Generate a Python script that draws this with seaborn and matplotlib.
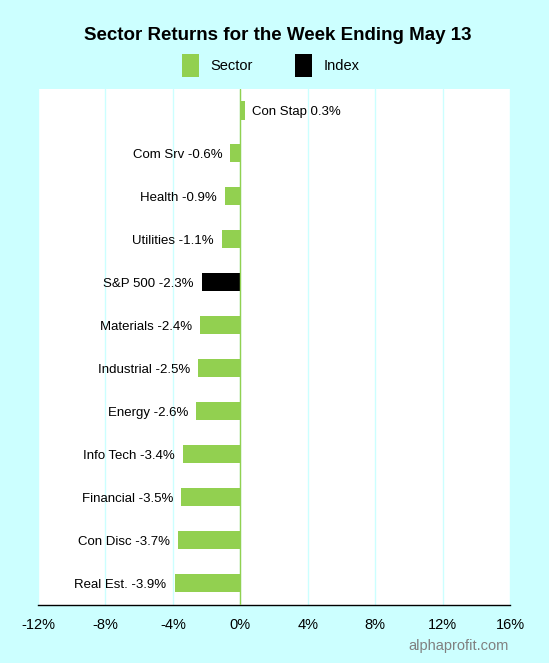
import matplotlib
matplotlib.use("Agg")
import matplotlib.pyplot as plt
from matplotlib.patches import Patch
import seaborn as sns
import pandas as pd

sectors = ["Con Stap", "Com Srv", "Health", "Utilities", "S&P 500", "Materials",
           "Industrial", "Energy", "Info Tech", "Financial", "Con Disc", "Real Est."]
returns = [0.3, -0.6, -0.9, -1.1, -2.3, -2.4, -2.5, -2.6, -3.4, -3.5, -3.7, -3.9]
kinds = ["Sector", "Sector", "Sector", "Sector", "Index", "Sector",
         "Sector", "Sector", "Sector", "Sector", "Sector", "Sector"]
xticks = [-12, -8, -4, 0, 4, 8, 12, 16]

GREEN = "#92d050"
BG = "#ccffff"

sns.set_style("white")
plt.rcParams['font.family'] = ['Liberation Sans', 'DejaVu Sans']
plt.rcParams['text.color'] = 'black'
plt.rcParams['xtick.color'] = 'black'
plt.rcParams['axes.labelcolor'] = 'black'

df = pd.DataFrame({"sector": sectors, "ret": returns, "kind": kinds})

fig = plt.figure(figsize=(5.49, 6.63), dpi=100, facecolor=BG)
ax = fig.add_axes([38/549, 1-604.5/663, 472/549, 515.5/663])
ax.set_facecolor("white")

for t in xticks:
    ax.axvline(t, color=BG, lw=1, zorder=0)

sns.barplot(data=df, x="ret", y="sector", hue="kind",
            palette={"Sector": GREEN, "Index": "black"},
            dodge=False, width=0.42, orient="h", legend=False, ax=ax,
            saturation=1, linewidth=0, edgecolor="none", zorder=2)
ax.axvline(0, color=GREEN, lw=1, zorder=3)

ax.set_xlim(-12, 16)
ax.set_ylim(11.5, -0.5)
ax.set_xticks(xticks)
ax.set_xticklabels([f"{t}%" for t in xticks], fontsize=10.5, color="black")
ax.set_yticks([])
ax.set_xlabel("")
ax.set_ylabel("")
for s in ["top", "right", "left"]:
    ax.spines[s].set_visible(False)
ax.spines["bottom"].set_color("black")
ax.spines["bottom"].set_linewidth(1)
ax.tick_params(axis="x", direction="out", length=5, width=1, color="black", pad=4.5)

for i, (name, v) in enumerate(zip(sectors, returns)):
    label = f"{name} {v:.1f}%"
    if v >= 0:
        ax.text(v + 0.42, i, label, ha="left", va="center_baseline", fontsize=9.5, color="black")
    else:
        ax.text(v - 0.47, i, label, ha="right", va="center_baseline", fontsize=9.5, color="black")

fig.text(277.5/549, 1-35/663, "Sector Returns for the Week Ending May 13",
         ha="center", va="center", fontsize=13.5, fontweight="bold", color="black")

handles = [Patch(facecolor=GREEN, edgecolor="none", label="Sector"),
           Patch(facecolor="black", edgecolor="none", label="Index")]
fig.legend(handles=handles, loc="center", bbox_to_anchor=(271/549, 1-65.5/663), ncol=2,
           frameon=False, fontsize=10.5, handlelength=1.16, handleheight=2.0,
           columnspacing=2.9, handletextpad=0.8, borderpad=0, borderaxespad=0)

fig.text(509/549, 1-646/663, "alphaprofit.com", ha="right", va="center",
         fontsize=10.5, color="#808080")

fig.savefig("out.png", dpi=100, facecolor=BG)
